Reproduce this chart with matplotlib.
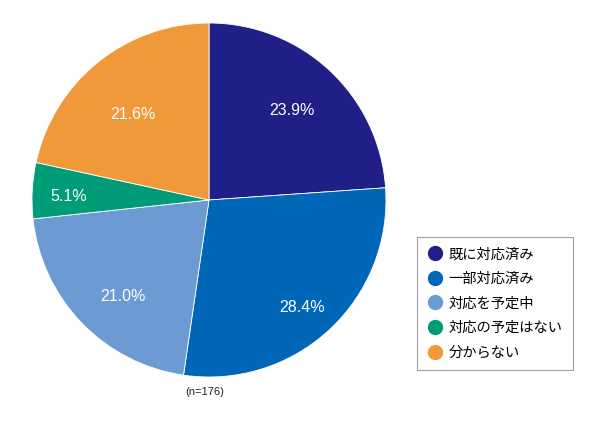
import matplotlib
matplotlib.use("Agg")
import matplotlib.pyplot as plt
from matplotlib.lines import Line2D
import numpy as np

plt.rcParams['font.family'] = ['Noto Sans CJK JP', 'DejaVu Sans']

categories = ["既に対応済み", "一部対応済み", "対応を予定中", "対応の予定はない", "分からない"]
values = [23.9, 28.4, 21.0, 5.1, 21.6]
colors = ["#1f1f87", "#0066b8", "#6b9bd2", "#009b77", "#f0993a"]
note = "(n=176)"

# label placement (style): radial distance and angular shift in degrees
label_r = [0.686, 0.806, 0.73, 0.794, 0.647]
label_shift = [0.2, -2.0, 4.1, 1.7, 2.6]

fig = plt.figure(figsize=(5.9, 4.21), dpi=100)
fig.patch.set_facecolor("white")
ax = fig.add_axes([32/590, 44/421, 354/590, 354/421])
wedges, _ = ax.pie(values, colors=colors, startangle=90, counterclock=False,
                   radius=1.0, wedgeprops=dict(linewidth=0.6, edgecolor="white"))
ax.set_xlim(-1, 1)
ax.set_ylim(-1, 1)
ax.set_aspect('equal')
for w, v, r, s in zip(wedges, values, label_r, label_shift):
    ang = np.deg2rad((w.theta1 + w.theta2) / 2 + s)
    ax.text(r*np.cos(ang), r*np.sin(ang), f"{v:.1f}%", ha="center", va="center",
            color="white", fontsize=11.5, family=['Liberation Sans', 'DejaVu Sans'])

fig.text(205/590, 1 - 392/421, note, ha="center", va="center", fontsize=8,
         color="#222222", family=['Liberation Sans', 'DejaVu Sans'])

handles = [Line2D([0], [0], marker='o', linestyle='', markersize=10,
                  markerfacecolor=c, markeredgecolor=c) for c in colors]
leg = fig.legend(handles, categories, loc="upper left",
                 bbox_to_anchor=(417/590, 1 - 237/421), borderaxespad=0,
                 frameon=True, fancybox=False, edgecolor="#888888", fontsize=10.3,
                 handletextpad=0.38, labelspacing=0.74, borderpad=0.72,
                 handlelength=1.1)
leg.get_frame().set_linewidth(0.8)

fig.savefig("out.png", dpi=100)
